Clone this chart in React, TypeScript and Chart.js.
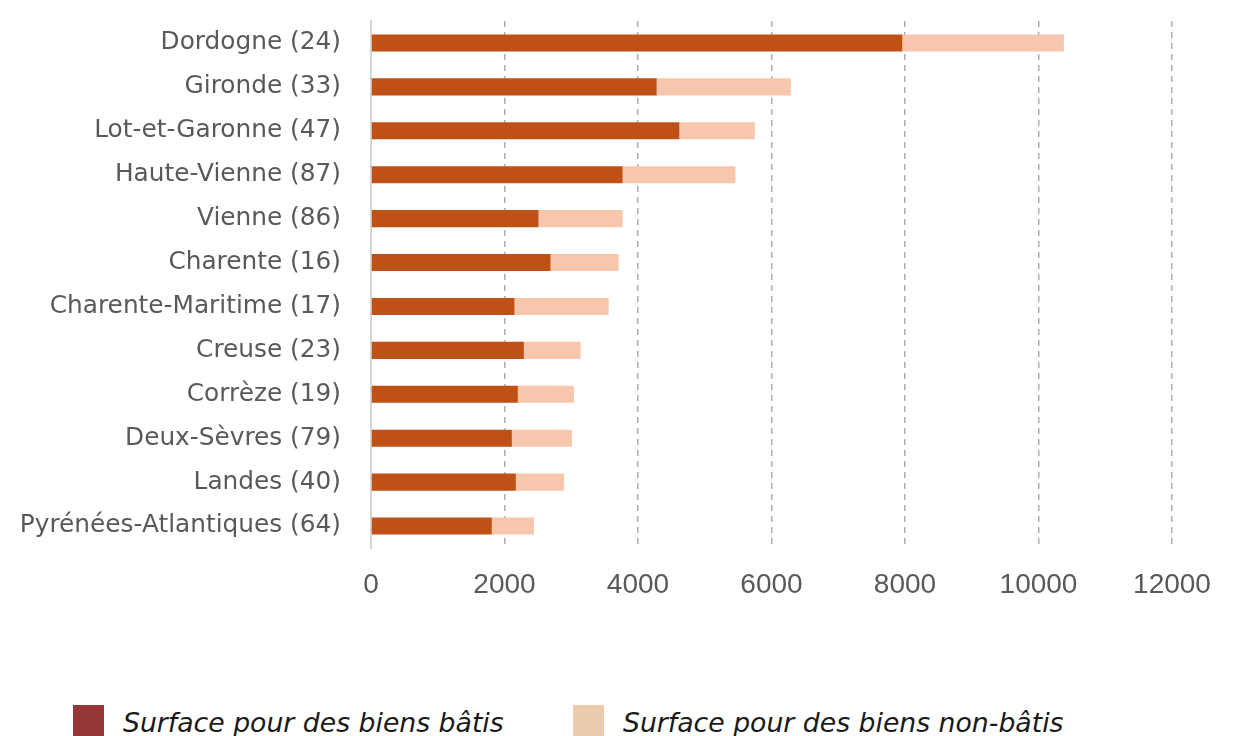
import React, { useEffect, useRef } from "react";
import { Chart, registerables } from "chart.js";

Chart.register(...registerables);

const categories = [
  "Dordogne (24)",
  "Gironde (33)",
  "Lot-et-Garonne (47)",
  "Haute-Vienne (87)",
  "Vienne (86)",
  "Charente (16)",
  "Charente-Maritime (17)",
  "Creuse (23)",
  "Corrèze (19)",
  "Deux-Sèvres (79)",
  "Landes (40)",
  "Pyrénées-Atlantiques (64)",
];

const surfaceBatis = [7960, 4280, 4620, 3770, 2510, 2690, 2150, 2290, 2200, 2110, 2170, 1810];
const surfaceNonBatis = [2420, 2010, 1130, 1690, 1260, 1020, 1410, 850, 840, 900, 720, 630];

const seriesLabels = ["Surface pour des biens bâtis", "Surface pour des biens non-bâtis"];
const barColors = ["#BF5016", "#F6C6AD"];
const legendColors = ["#973737", "#EBCBAD"];

const xTicks = [0, 2000, 4000, 6000, 8000, 10000, 12000];

export default function App() {
  const canvasRef = useRef<HTMLCanvasElement | null>(null);

  useEffect(() => {
    if (!canvasRef.current) return;
    const chart = new Chart(canvasRef.current, {
      type: "bar",
      data: {
        labels: categories,
        datasets: [
          {
            label: seriesLabels[0],
            data: surfaceBatis,
            backgroundColor: barColors[0],
            barPercentage: 0.39,
            categoryPercentage: 1,
          },
          {
            label: seriesLabels[1],
            data: surfaceNonBatis,
            backgroundColor: barColors[1],
            barPercentage: 0.39,
            categoryPercentage: 1,
          },
        ],
      },
      options: {
        indexAxis: "y",
        animation: false,
        responsive: true,
        maintainAspectRatio: false,
        layout: { padding: { top: 13, right: 56, left: 0, bottom: 0 } },
        plugins: {
          legend: { display: false },
          tooltip: { enabled: false },
        },
        scales: {
          x: {
            stacked: true,
            min: 0,
            max: 12000,
            afterBuildTicks: (scale: any) => {
              scale.ticks = xTicks.map((v) => ({ value: v }));
            },
            afterFit: (scale: any) => {
              scale.height = 80;
              scale.paddingLeft = 0;
              scale.paddingRight = 0;
            },
            ticks: {
              color: "#595959",
              font: { family: "'Liberation Sans', sans-serif", size: 28 },
              padding: 20,
              maxRotation: 0,
              callback: (v: any) => String(v),
            },
            grid: {
              color: "#AFAFAF",
              lineWidth: 1.5,
              drawTicks: false,
            },
            border: { display: false, dash: [6, 5] },
          },
          y: {
            stacked: true,
            afterFit: (scale: any) => {
              scale.width = 363;
              scale.paddingTop = 0;
              scale.paddingBottom = 0;
            },
            ticks: {
              color: "#595959",
              font: { family: "'DejaVu Sans', sans-serif", size: 24.8 },
              padding: 30,
            },
            grid: { display: false, drawTicks: false },
            border: { display: true, color: "#D6D6D6", width: 2 },
          },
        },
      },
    });
    return () => chart.destroy();
  }, []);

  const legendItem = (i: number, left: number) => (
    <div
      key={i}
      style={{
        position: "absolute",
        left,
        top: 697,
        display: "flex",
        alignItems: "flex-start",
        whiteSpace: "nowrap",
      }}
    >
      <div style={{ width: 31, height: 34, background: legendColors[i] }} />
      <span
        style={{
          marginLeft: 19,
          fontFamily: "'DejaVu Sans', sans-serif",
          fontStyle: "italic",
          fontSize: 26.7,
          lineHeight: "36px",
          color: "#1A1A1A",
        }}
      >
        {seriesLabels[i]}
      </span>
    </div>
  );

  return (
    <div style={{ position: "relative", width: 1220, height: 728, overflow: "hidden" }}>
      <div style={{ position: "relative", width: 1220, height: 620 }}>
        <canvas ref={canvasRef} />
      </div>
      {legendItem(0, 65)}
      {legendItem(1, 565)}
    </div>
  );
}
